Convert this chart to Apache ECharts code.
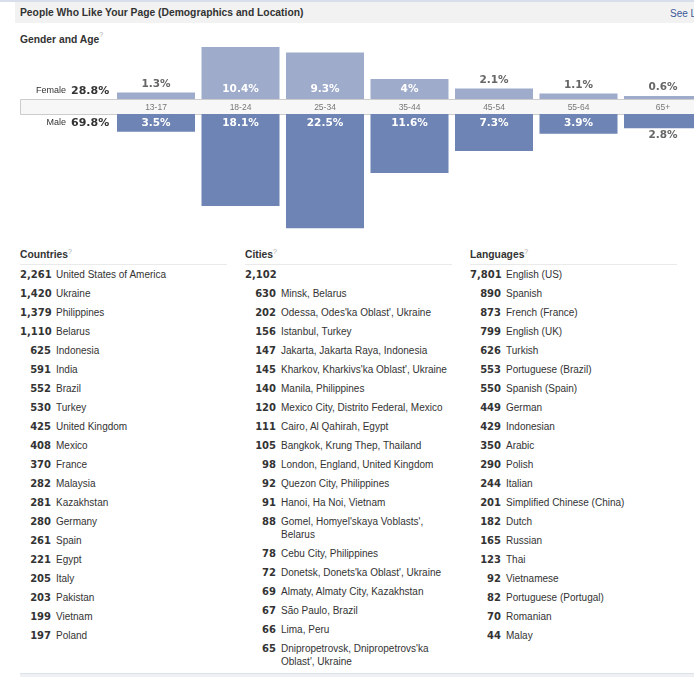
<!DOCTYPE html>
<html><head><meta charset="utf-8">
<script src="https://cdn.jsdelivr.net/npm/echarts@6/dist/echarts.min.js"></script>
<style>
html,body{margin:0;padding:0;width:694px;height:677px;overflow:hidden;background:#fff;}
body{position:relative;font-family:'Liberation Sans',Arial,sans-serif;color:#333;font-size:10px;}
.b{font-family:'DejaVu Sans',sans-serif;font-weight:bold;}
.hb{font-family:'Liberation Sans',Arial,sans-serif;font-weight:bold;font-size:10.3px;}
#topline{position:absolute;left:0;top:0;width:694px;height:2px;background:#d8dfea;}
#hdr{position:absolute;left:15px;top:2px;width:679px;height:21px;background:#f2f2f2;}
#hdr .t{position:absolute;left:5px;top:5px;white-space:nowrap;}
#hdr .see{position:absolute;left:655px;top:6px;font-size:10px;color:#3b5998;white-space:nowrap;}
#ga{position:absolute;left:20px;top:34px;white-space:nowrap;}
#chart{position:absolute;left:0;top:0;width:720px;height:245px;}
.col{position:absolute;top:248px;width:207px;}
.col .h{line-height:14px;height:16px;border-bottom:1px solid #eaeaea;white-space:nowrap;}
.row{display:flex;line-height:13px;margin-top:6px;font-size:10px;}
.row.first{margin-top:3px;}
.num{width:31px;text-align:right;flex:none;font-size:10px;}
.name{margin-left:5px;width:171px;}
sup{color:#aaa;font-size:7px;font-family:'Liberation Sans';font-weight:normal;vertical-align:top;position:relative;top:-3px;}
#foot{position:absolute;left:20px;top:673px;width:674px;height:4px;background:#eef0f4;border-top:1px solid #dde1ea;}
</style></head>
<body>
<div id="topline"></div>
<div id="hdr"><span class="t hb">People Who Like Your Page (Demographics and Location)</span><span class="see">See L</span></div>
<div id="ga" class="hb">Gender and Age<sup>?</sup></div>
<div id="chart"></div>
<div id="lists"></div>
<div id="foot"></div>
<script>
// ---- Gender and age data ----
const ageGroups = ['13-17','18-24','25-34','35-44','45-54','55-64','65+'];
const femalePct = [1.3, 10.4, 9.3, 4, 2.1, 1.1, 0.6];
const malePct = [3.5, 18.1, 22.5, 11.6, 7.3, 3.9, 2.8];
const genderNames = ['Female', 'Male'];
const genderTotals = [28.8, 69.8];

// ---- Lists ----
const countryNames = ['United States of America','Ukraine','Philippines','Belarus','Indonesia','India','Brazil','Turkey','United Kingdom','Mexico','France','Malaysia','Kazakhstan','Germany','Spain','Egypt','Italy','Pakistan','Vietnam','Poland'];
const countryCounts = [2261,1420,1379,1110,625,591,552,530,425,408,370,282,281,280,261,221,205,203,199,197];
const cityNames = ['','Minsk, Belarus',"Odessa, Odes'ka Oblast', Ukraine",'Istanbul, Turkey','Jakarta, Jakarta Raya, Indonesia',"Kharkov, Kharkivs'ka Oblast', Ukraine",'Manila, Philippines','Mexico City, Distrito Federal, Mexico','Cairo, Al Qahirah, Egypt','Bangkok, Krung Thep, Thailand','London, England, United Kingdom','Quezon City, Philippines','Hanoi, Ha Noi, Vietnam',"Gomel, Homyel'skaya Voblasts', Belarus",'Cebu City, Philippines',"Donetsk, Donets'ka Oblast', Ukraine",'Almaty, Almaty City, Kazakhstan','São Paulo, Brazil','Lima, Peru',"Dnipropetrovsk, Dnipropetrovs'ka Oblast', Ukraine"];
const cityCounts = [2102,630,202,156,147,145,140,120,111,105,98,92,91,88,78,72,69,67,66,65];
const languageNames = ['English (US)','Spanish','French (France)','English (UK)','Turkish','Portuguese (Brazil)','Spanish (Spain)','German','Indonesian','Arabic','Polish','Italian','Simplified Chinese (China)','Dutch','Russian','Thai','Vietnamese','Portuguese (Portugal)','Romanian','Malay'];
const languageCounts = [7801,890,873,799,626,553,550,449,429,350,290,244,201,182,165,123,92,82,70,44];
const listTitles = ['Countries','Cities','Languages'];

// build lists
const lists = [[countryCounts,countryNames],[cityCounts,cityNames],[languageCounts,languageNames]];
const colLeft = [20,245,470];
const fmt = n => n.toLocaleString('en-US');
const esc = s => s.replace(/&/g,'&amp;').replace(/</g,'&lt;');
let html = '';
lists.forEach((l,i)=>{
  html += '<div class="col" style="left:'+colLeft[i]+'px"><div class="h hb">'+listTitles[i]+'<sup>?</sup></div>';
  l[0].forEach((c,j)=>{
    html += '<div class="row'+(j===0?' first':'')+'"><span class="num b">'+fmt(c)+'</span><span class="name">'+esc(l[1][j])+'</span></div>';
  });
  html += '</div>';
});
document.getElementById('lists').innerHTML = html;

// chart
const chart = echarts.init(document.getElementById('chart'));
const boldFont = {fontFamily:'DejaVu Sans', fontWeight:'bold', fontSize:10.5};
const pctFmt = p => p.value + '%';
chart.setOption({
  animation:false,
  grid:[
    {left:113.75, top:39, width:591.5, height:60},
    {left:113.75, top:114, width:591.5, height:127}
  ],
  xAxis:[
    {type:'category', gridIndex:0, data:ageGroups, axisLine:{show:false}, axisTick:{show:false},
     axisLabel:{margin:4, fontSize:8.5, color:'#777', fontFamily:'Liberation Sans'}},
    {type:'category', gridIndex:1, data:ageGroups, show:false}
  ],
  yAxis:[
    {type:'value', gridIndex:0, min:0, max:12, show:false},
    {type:'value', gridIndex:1, min:0, max:25, inverse:true, show:false}
  ],
  graphic:[
    {type:'rect', left:20, top:99, z:-1, shape:{width:700, height:15}, style:{fill:'#f7f7f7', stroke:'#cccccc', lineWidth:1}},
    {type:'text', x:66, y:91, style:{text:genderNames[0], align:'right', verticalAlign:'middle', fontSize:9, fontFamily:'Liberation Sans', fill:'#333'}},
    {type:'text', x:71, y:91, style:Object.assign({text:genderTotals[0]+'%', align:'left', verticalAlign:'middle', fill:'#333'}, boldFont, {fontSize:11})},
    {type:'text', x:66, y:123, style:{text:genderNames[1], align:'right', verticalAlign:'middle', fontSize:9, fontFamily:'Liberation Sans', fill:'#333'}},
    {type:'text', x:71, y:123, style:Object.assign({text:genderTotals[1]+'%', align:'left', verticalAlign:'middle', fill:'#333'}, boldFont, {fontSize:11})}
  ],
  series:[
    {type:'bar', xAxisIndex:0, yAxisIndex:0, barWidth:78, itemStyle:{color:'#9eabcb'},
     label:Object.assign({show:true, formatter:pctFmt}, boldFont),
     data: femalePct.map(v => ({value:v, label: v >= 3 ? {position:'insideBottom', distance:4, color:'#fff'} : {position:'top', distance:3, color:'#666'}}))},
    {type:'bar', xAxisIndex:1, yAxisIndex:1, barWidth:78, itemStyle:{color:'#6d84b4'},
     label:Object.assign({show:true, formatter:pctFmt}, boldFont),
     data: malePct.map(v => ({value:v, label: v >= 3 ? {position:'insideTop', distance:4, color:'#fff'} : {position:'bottom', distance:2, color:'#666'}}))}
  ]
});
</script>
</body></html>
